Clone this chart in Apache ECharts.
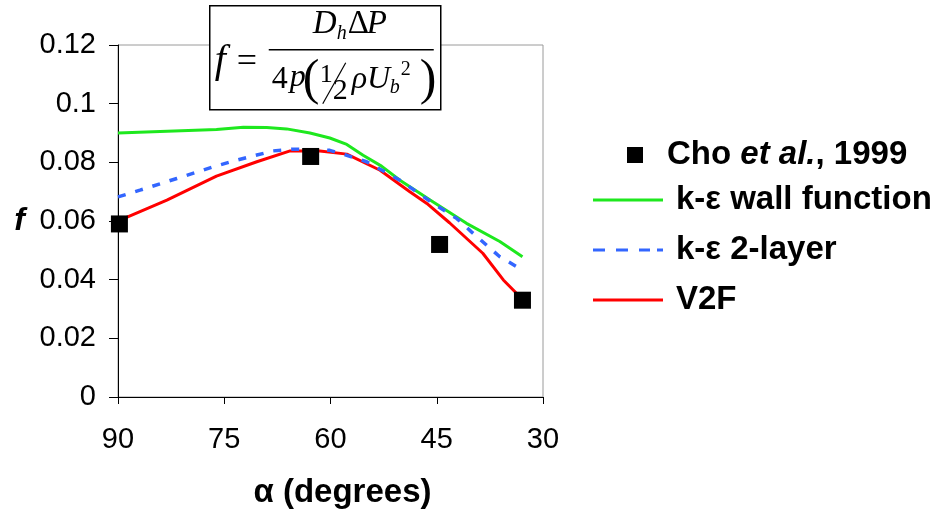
<!DOCTYPE html>
<html lang="en">
<head>
	<meta charset="UTF-8">
	<title>f vs alpha</title>
	<style>
		html, body { margin: 0; padding: 0; background: #fff; }
		#box { width: 942px; height: 511px; }
	</style>
</head>
<body>
	<div id="box"></div>
	<script src="https://cdn.jsdelivr.net/npm/echarts@6/dist/echarts.min.js"></script>
	<script>
		// experiment (Cho et al.)
		var choAngle = [89.8, 62.8, 44.6, 32.9];
		var choF = [0.059, 0.082, 0.052, 0.033];

		// k-e wall function
		var wallAngle = [90, 76.1, 72.3, 69.0, 66.2, 62.9, 60.1, 57.7, 55.4, 52.8, 50.2, 45.5, 40.8, 36.1, 32.9];
		var wallF = [0.090, 0.0912, 0.0920, 0.0919, 0.0914, 0.0900, 0.0883, 0.0861, 0.0824, 0.0787, 0.0739, 0.0665, 0.0592, 0.0530, 0.0478];

		// k-e 2-layer
		var twoAngle = [90, 86.9, 81.7, 76.1, 73.3, 68.1, 65.3, 60.1, 57.7, 54.9, 50.2, 45.5, 42.2, 40.1, 36.1, 32.9];
		var twoF = [0.0682, 0.0705, 0.0745, 0.0788, 0.0807, 0.0839, 0.0845, 0.0841, 0.0824, 0.0802, 0.0739, 0.0660, 0.0609, 0.0563, 0.0478, 0.0433];

		// V2F
		var v2fAngle = [89.7, 83.1, 76.1, 70.4, 65.7, 61.5, 57.7, 53.0, 48.8, 46.4, 43.2, 38.5, 35.6, 33.4];
		var v2fF = [0.0603, 0.0671, 0.0753, 0.0802, 0.0839, 0.0839, 0.0828, 0.0773, 0.0700, 0.0660, 0.0594, 0.0490, 0.0399, 0.0345];

		var xTicks = [90, 75, 60, 45, 30];
		var yTicks = [0, 0.02, 0.04, 0.06, 0.08, 0.1, 0.12];

		function pairs(xs, ys) {
			return xs.map(function (x, i) { return [x, ys[i]]; });
		}

		var font = 'Liberation Sans, Arial, sans-serif';
		var serif = 'Liberation Serif, Times New Roman, serif';

		var myChart = echarts.init(document.getElementById('box'));

		var legendText = { fontFamily: font, fontSize: 33, fontWeight: 'bold', color: '#000', lineHeight: 36 };
		// dashed stroke for the legend of the 2-layer line
		var dashIcon = 'path://M0,0h12v3h-12z M23,0h12v3h-12z M46,0h11v3h-11z M64,0h6v3h-6z';

		var option = {
			animation: false,
			backgroundColor: '#fff',
			grid: {
				left: 118, right: 399, top: 45, bottom: 114,
				outerBoundsMode: 'none',
				containLabel: false,
				show: true, borderColor: '#9a9a9a', borderWidth: 1
			},
			legend: [{
				data: ['Cho et al., 1999'],
				left: 627, top: 137, padding: 0,
				itemWidth: 16, itemHeight: 16,
				icon: 'rect',
				formatter: function () { return '{a|Cho }{b|et al.}{a|, 1999}'; },
				textStyle: {
					fontFamily: font, fontSize: 33, fontWeight: 'bold', color: '#000', lineHeight: 36,
					padding: [0, 0, 0, 19],
					rich: {
						a: legendText,
						b: { fontFamily: font, fontSize: 33, fontWeight: 'bold', fontStyle: 'italic', color: '#000', lineHeight: 36 }
					}
				}
			}, {
				data: [
					{ name: 'k-ε wall function', icon: 'rect' },
					{ name: 'k-ε 2-layer', icon: dashIcon },
					{ name: 'V2F', icon: 'rect' }
				],
				orient: 'vertical',
				left: 593, top: 182, padding: 0,
				itemWidth: 70, itemHeight: 3, itemGap: 14,
				textStyle: {
					fontFamily: font, fontSize: 33, fontWeight: 'bold', color: '#000', lineHeight: 36,
					padding: [0, 0, 0, 8]
				}
			}],
			xAxis: {
				type: 'value',
				inverse: true,
				min: 30, max: 90, interval: 15,
				name: 'α (degrees)',
				nameLocation: 'middle',
				nameGap: 79,
				nameMoveOverlap: false,
				nameTextStyle: {
					fontFamily: font, fontSize: 33, fontWeight: 'bold', color: '#000',
					padding: [0, 0, 0, 24]
				},
				axisLine: { lineStyle: { color: '#000', width: 1 } },
				axisTick: { length: 7, lineStyle: { color: '#000' } },
				axisLabel: {
					margin: 28, fontFamily: font, fontSize: 29, color: '#000',
					formatter: function (v) { return xTicks.indexOf(v) >= 0 ? String(v) : ''; }
				},
				splitLine: { show: false }
			},
			yAxis: {
				type: 'value',
				min: 0, max: 0.12, interval: 0.02,
				name: 'f',
				nameLocation: 'middle',
				nameRotate: 0,
				nameGap: 93,
				nameMoveOverlap: false,
				nameTextStyle: {
					fontFamily: font, fontSize: 32, fontWeight: 'bold', fontStyle: 'italic', color: '#000',
					padding: [14, 0, 0, 0]
				},
				axisLine: { show: true, lineStyle: { color: '#000', width: 1 } },
				axisTick: { show: true, length: 9, lineStyle: { color: '#000' } },
				axisLabel: {
					margin: 22, fontFamily: font, fontSize: 29, color: '#000',
					formatter: function (v) {
						var k = yTicks.findIndex(function (t) { return Math.abs(t - v) < 1e-9; });
						return k >= 0 ? String(yTicks[k]) : '';
					}
				},
				splitLine: { show: false }
			},
			graphic: [{
				type: 'group',
				left: 209, top: 5,
				children: [
					{ type: 'rect', shape: { x: 0, y: 0, width: 231, height: 104 }, style: { fill: '#fff', stroke: '#000', lineWidth: 1.5 } },
					{ type: 'text', x: 5, y: 36, style: { text: 'f', font: 'italic 40px ' + serif, fill: '#000' } },
					{ type: 'text', x: 27, y: 39, style: { text: '=', font: '36px ' + serif, fill: '#000' } },
					{ type: 'line', shape: { x1: 59, y1: 44, x2: 224, y2: 44 }, style: { stroke: '#000', lineWidth: 1.5 } },
					{ type: 'text', x: 103, y: 2, style: { text: 'D', font: 'italic 33px ' + serif, fill: '#000' } },
					{ type: 'text', x: 127, y: 18, style: { text: 'h', font: 'italic 20px ' + serif, fill: '#000' } },
					{ type: 'text', x: 138, y: 2, style: { text: 'Δ', font: '33px ' + serif, fill: '#000' } },
					{ type: 'text', x: 157, y: 2, style: { text: 'P', font: 'italic 33px ' + serif, fill: '#000' } },
					{ type: 'text', x: 62, y: 58, style: { text: '4', font: '32px ' + serif, fill: '#000' } },
					{ type: 'text', x: 80, y: 56, style: { text: 'p', font: 'italic 32px ' + serif, fill: '#000' } },
					{ type: 'text', x: 93, y: 50, style: { text: '(', font: '50px ' + serif, fill: '#000' } },
					{ type: 'text', x: 110, y: 56, style: { text: '1', font: '26px ' + serif, fill: '#000' } },
					{ type: 'line', shape: { x1: 113, y1: 98, x2: 136, y2: 57 }, style: { stroke: '#000', lineWidth: 1.2 } },
					{ type: 'text', x: 123, y: 70, style: { text: '2', font: '30px ' + serif, fill: '#000' } },
					{ type: 'text', x: 142, y: 58, style: { text: 'ρU', font: 'italic 32px ' + serif, fill: '#000' } },
					{ type: 'text', x: 180, y: 72, style: { text: 'b', font: 'italic 20px ' + serif, fill: '#000' } },
					{ type: 'text', x: 191, y: 54, style: { text: '2', font: '20px ' + serif, fill: '#000' } },
					{ type: 'text', x: 210, y: 50, style: { text: ')', font: '50px ' + serif, fill: '#000' } }
				]
			}],
			series: [{
				name: 'k-ε wall function',
				type: 'line',
				data: pairs(wallAngle, wallF),
				symbol: 'none',
				lineStyle: { color: '#1ee81e', width: 3 },
				itemStyle: { color: '#1ee81e' },
				z: 3
			}, {
				name: 'k-ε 2-layer',
				type: 'line',
				data: pairs(twoAngle, twoF),
				symbol: 'none',
				lineStyle: { color: '#3366ff', width: 3.5, type: [8, 10] },
				itemStyle: { color: '#3366ff' },
				z: 4
			}, {
				name: 'V2F',
				type: 'line',
				data: pairs(v2fAngle, v2fF),
				symbol: 'none',
				lineStyle: { color: '#ff0000', width: 3 },
				itemStyle: { color: '#ff0000' },
				z: 2
			}, {
				name: 'Cho et al., 1999',
				type: 'scatter',
				data: pairs(choAngle, choF),
				symbol: 'rect',
				symbolSize: 17,
				itemStyle: { color: '#000', opacity: 1 },
				z: 5
			}]
		};

		myChart.setOption(option);
	</script>
</body>
</html>
